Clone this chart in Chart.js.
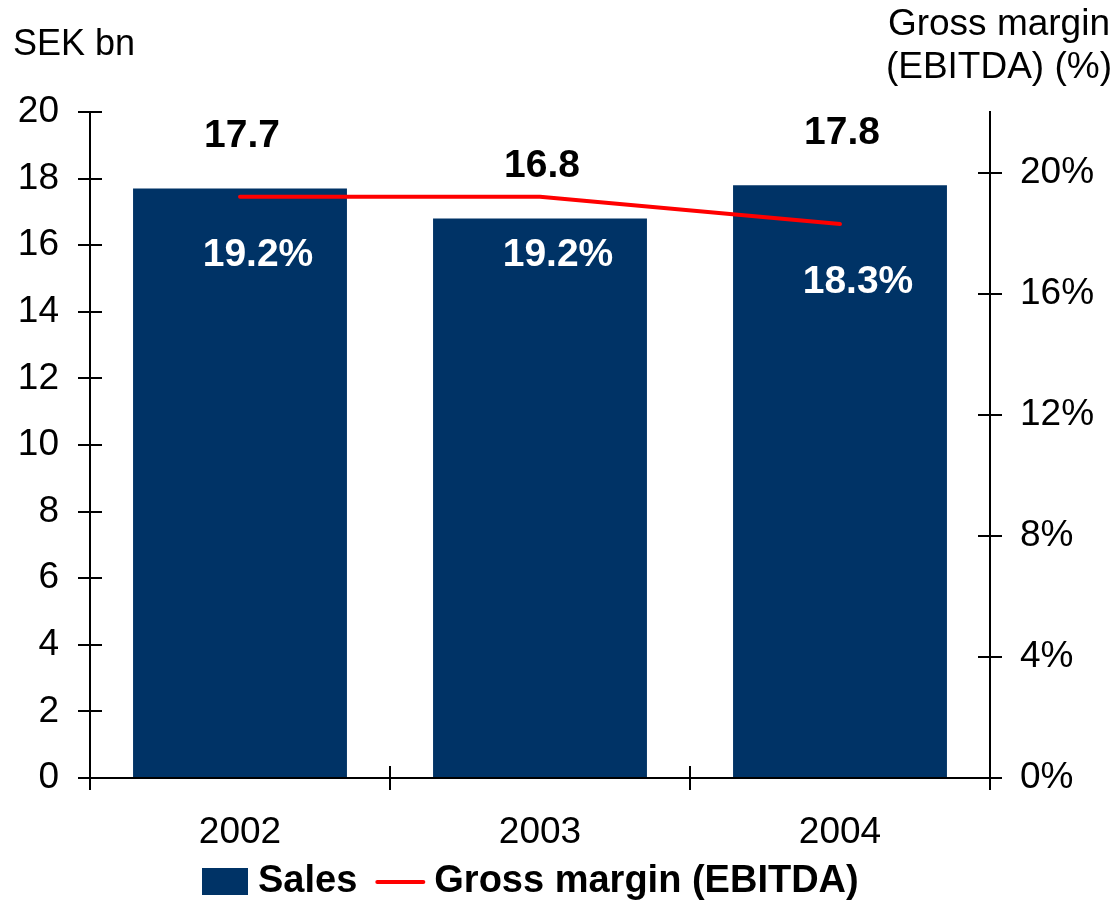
<!DOCTYPE html>
<html>
<head>
<meta charset="utf-8">
<script src="https://cdn.jsdelivr.net/npm/chart.js@4.4.0/dist/chart.umd.min.js"></script>
<style>
    html, body { margin: 0; padding: 0; background: #fff; }
    #wrap { width: 1115px; height: 903px; }
</style>
</head>
<body>
<div id="wrap"><canvas id="chart-canvas" width="1115" height="903"></canvas></div>
<script>
// Datos del grafico
const years = ['2002', '2003', '2004'];
const sales = [17.7, 16.8, 17.8];          // SEK bn
const grossMargin = [19.2, 19.2, 18.3];    // %
const salesTicks = [0, 2, 4, 6, 8, 10, 12, 14, 16, 18, 20];
const marginTicks = [0, 4, 8, 12, 16, 20];

const FONT = "'Liberation Sans', Arial, Helvetica, sans-serif";
const NAVY = '#003366';
const RED = '#ff0000';
const INK = '#000000';
const TICK = 12;

Chart.defaults.font.family = FONT;
Chart.defaults.color = INK;

// Titles, inner half of the cross ticks, value labels and legend
const extras = {
    id: 'extras',
    afterDraw(chart) {
        const { ctx, chartArea: a, scales } = chart;
        ctx.save();

        // inner half of tick marks
        ctx.strokeStyle = INK;
        ctx.lineWidth = 2;
        ctx.beginPath();
        scales.y.ticks.forEach(t => {
            const y = Math.round(scales.y.getPixelForValue(t.value));
            ctx.moveTo(a.left, y);
            ctx.lineTo(a.left + TICK, y);
        });
        scales.y1.ticks.forEach(t => {
            const y = Math.round(scales.y1.getPixelForValue(t.value));
            ctx.moveTo(a.right - TICK, y);
            ctx.lineTo(a.right, y);
        });
        const step = scales.x.getPixelForValue(1) - scales.x.getPixelForValue(0);
        for (let i = 0; i <= years.length; i++) {
            const x = Math.round(scales.x.getPixelForValue(i) - step / 2);
            ctx.moveTo(x, a.bottom - TICK);
            ctx.lineTo(x, a.bottom);
        }
        ctx.stroke();

        // axis titles
        ctx.fillStyle = INK;
        ctx.font = `36px ${FONT}`;
        ctx.textBaseline = 'middle';
        ctx.textAlign = 'left';
        ctx.fillText('SEK bn', 13, 45);
        ctx.font = `37px ${FONT}`;
        ctx.textAlign = 'right';
        ctx.fillText('Gross margin', 1110, 25);
        ctx.fillText('(EBITDA) (%)', 1112, 68);

        // labels
        const bars = chart.getDatasetMeta(1).data;
        const pts = chart.getDatasetMeta(0).data;
        ctx.font = `bold 39px ${FONT}`;
        ctx.textAlign = 'center';
        bars.forEach((b, i) => {
            ctx.fillStyle = INK;
            ctx.fillText(sales[i].toFixed(1), b.x + 2, b.y - 52);
            ctx.fillStyle = '#ffffff';
            ctx.fillText(grossMargin[i].toFixed(1) + '%', pts[i].x + 18, pts[i].y + 58);
        });

        // legend
        const ds = chart.data.datasets;
        const ly = 882;
        let x = 202;
        ctx.font = `bold 38px ${FONT}`;
        ctx.textAlign = 'left';
        ctx.fillStyle = ds[1].backgroundColor;
        ctx.fillRect(x, ly - 14, 46, 27);
        x += 46 + 10;
        ctx.fillStyle = INK;
        ctx.fillText(ds[1].label, x, ly);
        x += ctx.measureText(ds[1].label).width + 18;
        ctx.strokeStyle = ds[0].borderColor;
        ctx.lineWidth = ds[0].borderWidth;
        ctx.lineCap = 'round';
        ctx.beginPath();
        ctx.moveTo(x + 2, ly);
        ctx.lineTo(x + 48, ly);
        ctx.stroke();
        x += 50 + 9;
        ctx.fillText(ds[0].label, x, ly);

        ctx.restore();
    }
};

const canvas = document.getElementById('chart-canvas');
const config = {
    data: {
        labels: years,
        datasets: [
            {
                type: 'line',
                label: 'Gross margin (EBITDA)',
                data: grossMargin,
                yAxisID: 'y1',
                borderColor: RED,
                backgroundColor: RED,
                borderWidth: 4,
                borderCapStyle: 'round',
                pointRadius: 0,
                order: 0
            },
            {
                type: 'bar',
                label: 'Sales',
                data: sales,
                yAxisID: 'y',
                backgroundColor: NAVY,
                borderWidth: 0,
                barPercentage: 0.713,
                categoryPercentage: 1,
                order: 1
            }
        ]
    },
    options: {
        responsive: false,
        animation: false,
        devicePixelRatio: 1,
        layout: { padding: { top: 112, left: 0, right: 0, bottom: 44 } },
        plugins: {
            tooltip: { enabled: false },
            legend: { display: false }
        },
        scales: {
            x: {
                offset: true,
                grid: { offset: true, drawOnChartArea: false, drawTicks: true, tickLength: TICK, color: INK, lineWidth: 2 },
                border: { color: INK, width: 2 },
                ticks: { font: { size: 37 }, color: INK, padding: 21 },
                afterFit: s => { s.height = 81; }
            },
            y: {
                position: 'left',
                min: 0,
                max: 20,
                afterBuildTicks: s => { s.ticks = salesTicks.map(v => ({ value: v })); },
                grid: { drawOnChartArea: false, drawTicks: true, tickLength: TICK, color: INK, lineWidth: 2 },
                border: { color: INK, width: 2 },
                ticks: { font: { size: 37 }, color: INK, padding: 19 },
                afterFit: s => { s.width = 90; }
            },
            y1: {
                position: 'right',
                min: 0,
                max: 22,
                afterBuildTicks: s => { s.ticks = marginTicks.map(v => ({ value: v })); },
                grid: { drawOnChartArea: false, drawTicks: true, tickLength: TICK, color: INK, lineWidth: 2 },
                border: { color: INK, width: 2 },
                ticks: { font: { size: 37 }, color: INK, padding: 18, callback: v => v + '%' },
                afterFit: s => { s.width = 125; }
            }
        }
    },
    plugins: [extras]
};

new Chart(canvas.getContext('2d'), config);
</script>
</body>
</html>
